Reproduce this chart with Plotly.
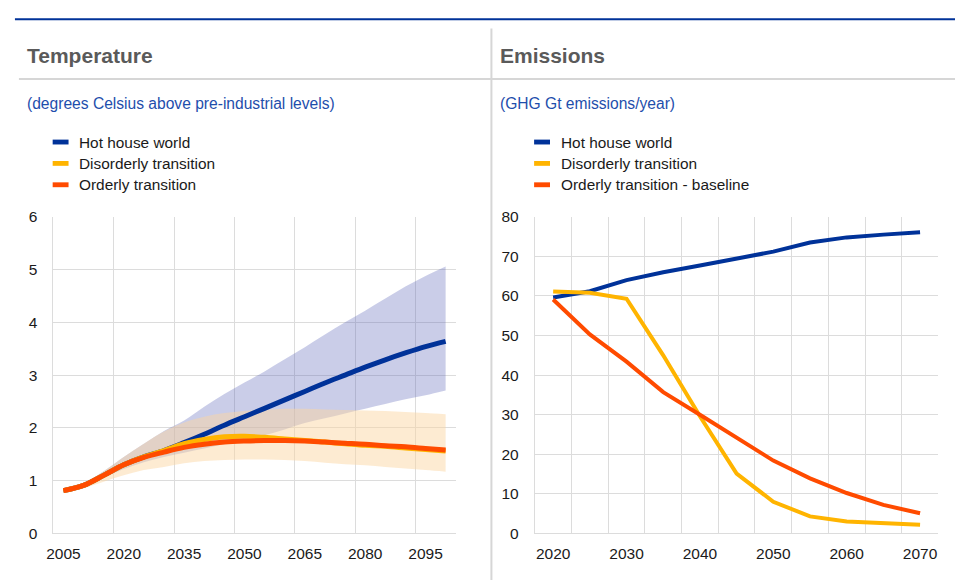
import plotly.graph_objects as go

# ---------------- data ----------------
temp_years = [2005, 2010, 2015, 2020, 2025, 2030, 2035, 2040, 2045, 2050,
              2055, 2060, 2065, 2070, 2075, 2080, 2085, 2090, 2095, 2100]
temp_hot_house = [0.81, 0.91, 1.10, 1.30, 1.45, 1.57, 1.72, 1.88, 2.05, 2.21,
                  2.37, 2.53, 2.69, 2.85, 3.00, 3.15, 3.29, 3.42, 3.54, 3.64]
temp_disorderly = [0.81, 0.91, 1.10, 1.30, 1.45, 1.57, 1.70, 1.78, 1.83, 1.84,
                   1.82, 1.79, 1.76, 1.73, 1.70, 1.67, 1.65, 1.62, 1.59, 1.56]
temp_orderly = [0.81, 0.91, 1.10, 1.30, 1.44, 1.54, 1.63, 1.69, 1.73, 1.75,
                1.76, 1.76, 1.75, 1.73, 1.71, 1.69, 1.66, 1.64, 1.61, 1.58]
# uncertainty ranges
hot_house_upper = [0.81, 0.95, 1.18, 1.45, 1.70, 1.94, 2.14, 2.40, 2.64, 2.86,
                   3.07, 3.30, 3.53, 3.77, 4.00, 4.22, 4.45, 4.68, 4.88, 5.06]
hot_house_lower = [0.81, 0.90, 1.06, 1.22, 1.35, 1.45, 1.53, 1.61, 1.69, 1.77,
                   1.86, 1.97, 2.09, 2.18, 2.27, 2.36, 2.45, 2.54, 2.62, 2.71]
transition_upper = [0.81, 0.95, 1.18, 1.45, 1.70, 1.93, 2.10, 2.21, 2.28, 2.32,
                    2.34, 2.36, 2.36, 2.35, 2.34, 2.33, 2.32, 2.30, 2.28, 2.26]
transition_lower = [0.79, 0.86, 0.98, 1.10, 1.20, 1.26, 1.33, 1.37, 1.39, 1.40,
                    1.40, 1.39, 1.37, 1.34, 1.31, 1.29, 1.26, 1.23, 1.20, 1.17]

emis_years = [2020, 2025, 2030, 2035, 2040, 2045, 2050, 2055, 2060, 2065, 2070]
emis_hot_house = [59.6, 61.2, 64.0, 66.0, 67.7, 69.4, 71.2, 73.5, 74.8, 75.5, 76.1]
emis_disorderly = [61.1, 60.8, 59.3, 45.0, 29.6, 15.1, 8.0, 4.3, 3.0, 2.6, 2.2]
emis_orderly = [59.1, 50.3, 43.4, 35.7, 30.0, 24.1, 18.4, 13.9, 10.2, 7.2, 5.1]

temp_ticks = [2005, 2020, 2035, 2050, 2065, 2080, 2095]
emis_ticks = [2020, 2030, 2040, 2050, 2060, 2070]

temp_names = ["Hot house world", "Disorderly transition", "Orderly transition"]
emis_names = ["Hot house world", "Disorderly transition", "Orderly transition - baseline"]

# ---------------- styling ----------------
BLUE = "#003299"
YELLOW = "#FFB400"
ORANGE = "#FF4B00"
GRID = "#dcdcdc"
FONT = "Arial, Liberation Sans, sans-serif"
W, H = 955, 588
colors = [BLUE, YELLOW, ORANGE]


def px(x):
    return x / W


def py(y):
    return 1 - y / H


fig = go.Figure()

# temperature ranges (shaded)
fig.add_trace(go.Scatter(x=temp_years, y=hot_house_upper, mode="lines",
                         line=dict(width=0, shape="spline"), hoverinfo="skip",
                         showlegend=False, xaxis="x", yaxis="y"))
fig.add_trace(go.Scatter(x=temp_years, y=hot_house_lower, mode="lines",
                         line=dict(width=0, shape="spline"), fill="tonexty",
                         fillcolor="rgba(90,100,185,0.32)", hoverinfo="skip",
                         showlegend=False, xaxis="x", yaxis="y"))
fig.add_trace(go.Scatter(x=temp_years, y=transition_upper, mode="lines",
                         line=dict(width=0, shape="spline"), hoverinfo="skip",
                         showlegend=False, xaxis="x", yaxis="y"))
fig.add_trace(go.Scatter(x=temp_years, y=transition_lower, mode="lines",
                         line=dict(width=0, shape="spline"), fill="tonexty",
                         fillcolor="rgba(251,214,163,0.49)", hoverinfo="skip",
                         showlegend=False, xaxis="x", yaxis="y"))

# temperature paths
for name, ys, c in zip(temp_names, [temp_hot_house, temp_disorderly, temp_orderly], colors):
    fig.add_trace(go.Scatter(x=temp_years, y=ys, name=name, mode="lines",
                             line=dict(color=c, width=5, shape="spline"),
                             showlegend=False, xaxis="x", yaxis="y"))

# emissions paths
for name, ys, c in zip(emis_names, [emis_hot_house, emis_disorderly, emis_orderly], colors):
    fig.add_trace(go.Scatter(x=emis_years, y=ys, name=name, mode="lines",
                             line=dict(color=c, width=4),
                             showlegend=False, xaxis="x2", yaxis="y2"))

tick_font = dict(family=FONT, size=15.5, color="#1a1a1a")

# category-style x axes: labels at period centres, gridlines at boundaries
temp_step = temp_years[1] - temp_years[0]
temp_bounds = [t - temp_step / 2 for t in temp_ticks]
emis_step = emis_years[1] - emis_years[0]
emis_bounds = [y + emis_step / 2 for y in emis_years]

fig.update_layout(
    width=W, height=H,
    margin=dict(l=0, r=0, t=0, b=0),
    paper_bgcolor="white", plot_bgcolor="white",
    showlegend=False,
    xaxis=dict(domain=[px(46.7), px(452)],
               range=[temp_years[0] - temp_step / 2, temp_years[-1] + temp_step / 2],
               tickmode="array", tickvals=temp_ticks, showgrid=False,
               minor=dict(tickmode="array", tickvals=temp_bounds, showgrid=True,
                          gridcolor=GRID, gridwidth=1),
               showline=True, linecolor=GRID, linewidth=1,
               ticks="", tickfont=tick_font, ticklabelstandoff=6, zeroline=False,
               fixedrange=True),
    yaxis=dict(domain=[py(540), py(214)], range=[0, 6], dtick=1,
               showgrid=True, gridcolor=GRID, gridwidth=1,
               showline=True, linecolor=GRID, linewidth=1, zeroline=False,
               ticks="", tickfont=tick_font, ticklabelstandoff=12, anchor="x"),
    xaxis2=dict(domain=[px(531.7), px(938.3)],
                range=[emis_years[0] - emis_step / 2, emis_years[-1] + emis_step / 2],
                tickmode="array", tickvals=emis_ticks, showgrid=False,
                minor=dict(tickmode="array", tickvals=emis_bounds, showgrid=True,
                           gridcolor=GRID, gridwidth=1),
                showline=True, linecolor=GRID, linewidth=1,
                ticks="", tickfont=tick_font, ticklabelstandoff=6, zeroline=False,
                anchor="y2"),
    yaxis2=dict(domain=[py(540), py(214)], range=[0, 80], dtick=10,
                showgrid=True, gridcolor=GRID, gridwidth=1,
                showline=True, linecolor=GRID, linewidth=1, zeroline=False,
                ticks="", tickfont=tick_font, ticklabelstandoff=12, anchor="x2"),
)

shapes = [
    # top rule
    dict(type="line", xref="paper", yref="paper", x0=px(8), x1=1, y0=py(10.5), y1=py(10.5),
         line=dict(color=BLUE, width=2)),
    # header separator
    dict(type="line", xref="paper", yref="paper", x0=px(12), x1=1, y0=py(72), y1=py(72),
         line=dict(color="#d6d6d6", width=2)),
    # panel divider
    dict(type="line", xref="paper", yref="paper", x0=px(488), x1=px(488), y0=py(20), y1=0,
         line=dict(color="#d6d6d6", width=2)),
]

annotations = []
panels = [
    ("Temperature", "(degrees Celsius above pre-industrial levels)", temp_names, 18, 46, 70.5),
    ("Emissions", "(GHG Gt emissions/year)", emis_names, 495, 531, 556),
]
for title, subtitle, names, tx, sx, lx in panels:
    annotations.append(dict(text="<b>" + title + "</b>", xref="paper", yref="paper",
                            x=px(tx), y=py(47.5), xanchor="left", yanchor="middle",
                            showarrow=False, font=dict(family=FONT, size=21, color="#5a5a5a")))
    annotations.append(dict(text=subtitle, xref="paper", yref="paper",
                            x=px(tx), y=py(97), xanchor="left", yanchor="middle",
                            showarrow=False, font=dict(family=FONT, size=15.6, color="#1e4eac")))
    for i, (name, c) in enumerate(zip(names, colors)):
        yc = 137 + 22 * i
        shapes.append(dict(type="rect", xref="paper", yref="paper",
                           x0=px(sx), x1=px(sx + 16), y0=py(yc + 2.5), y1=py(yc - 2.5),
                           fillcolor=c, line=dict(width=0)))
        annotations.append(dict(text=name, xref="paper", yref="paper",
                                x=px(lx), y=py(yc), xanchor="left", yanchor="middle",
                                showarrow=False, font=dict(family=FONT, size=15.4, color="#1a1a1a")))

fig.update_layout(shapes=shapes, annotations=annotations)

fig.write_html("out.html")
